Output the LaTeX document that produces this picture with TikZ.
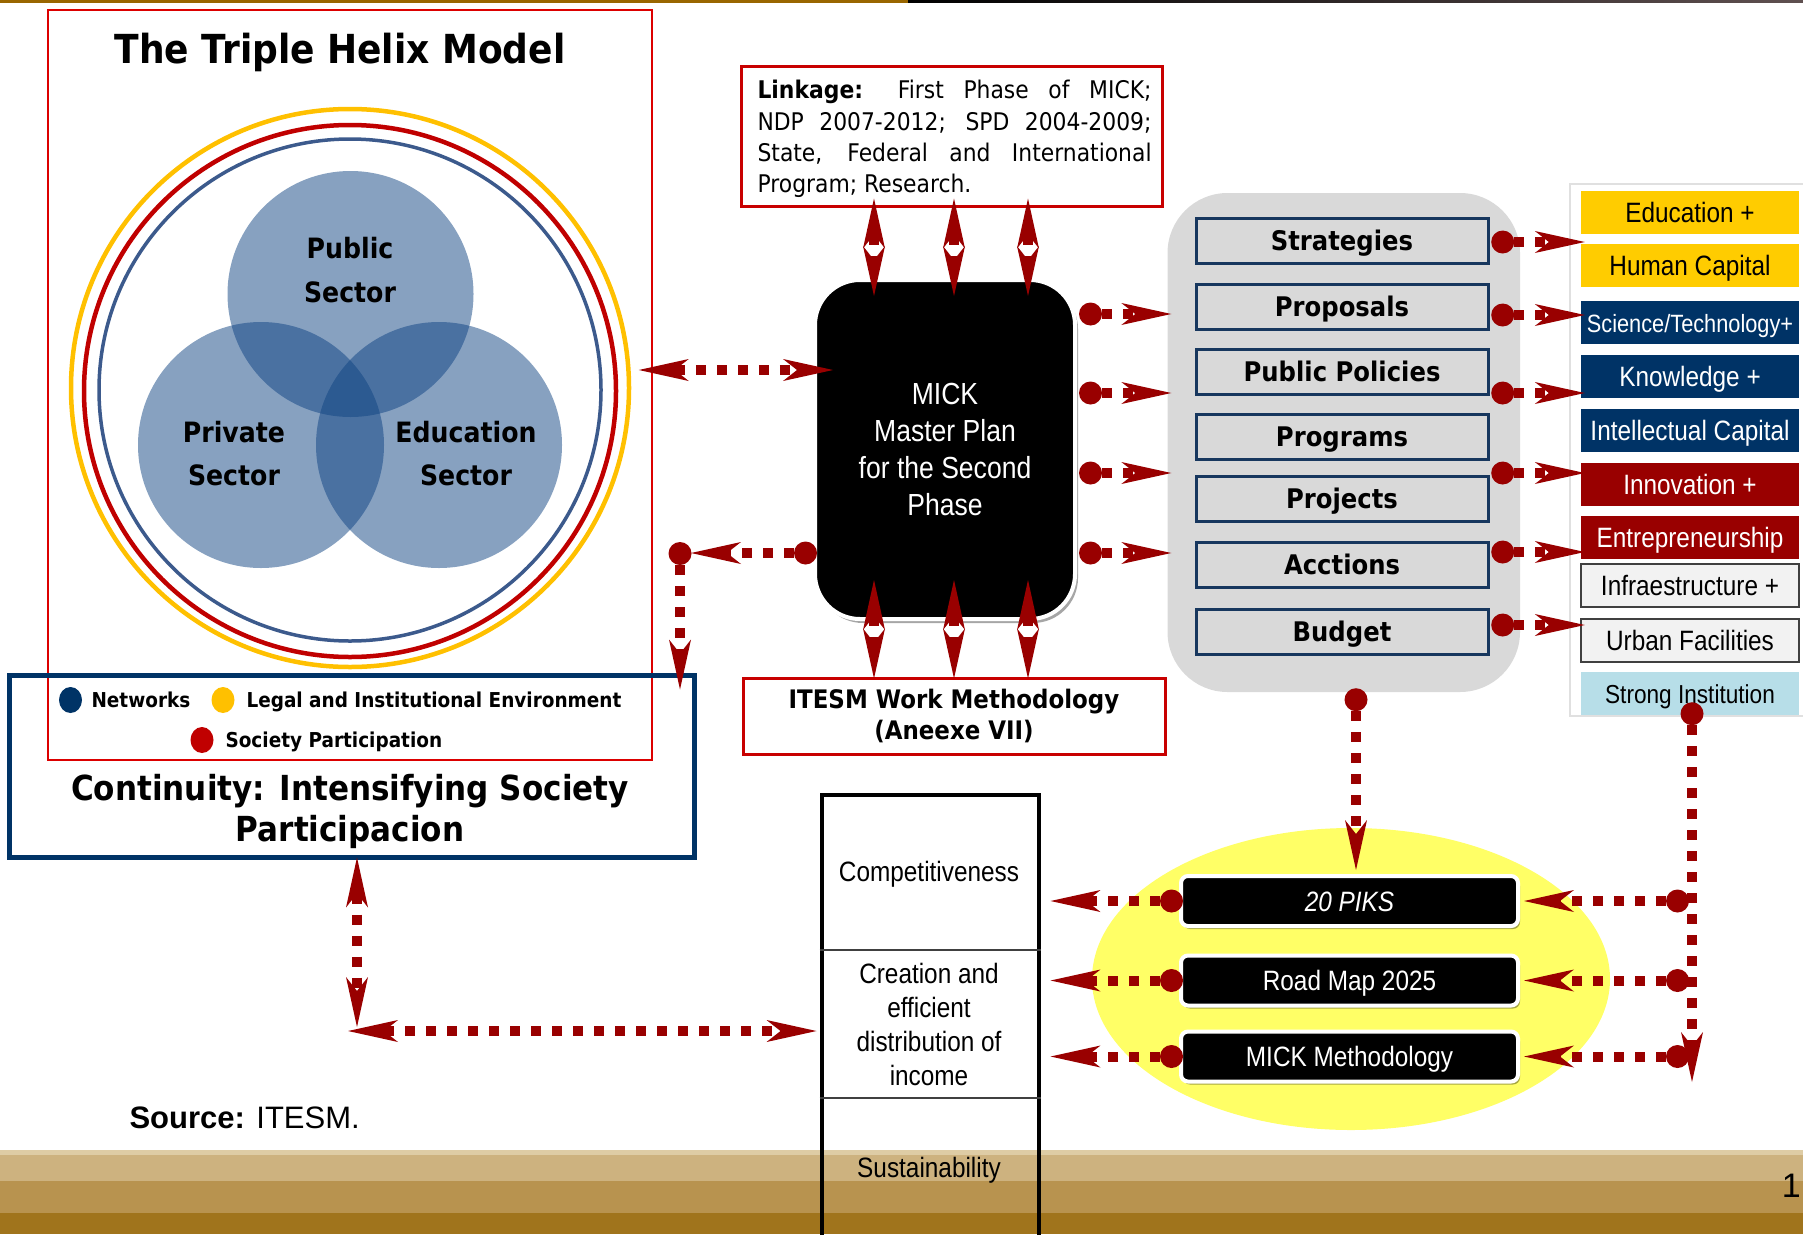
\documentclass[tikz,border=0pt]{standalone}
\usepackage{fontspec}
\setmainfont{Liberation Sans}
\newfontfamily\tah[FakeStretch=0.9]{DejaVu Sans}
\newfontfamily\nar[FakeStretch=0.87]{Liberation Sans}
\newfontfamily\ari{Liberation Sans}
\usetikzlibrary{arrows.meta,calc,shapes.geometric,shadows}
\newcommand\fsz[2]{\fontsize{#1}{#2}\selectfont}
\definecolor{ared}{RGB}{153,0,0}
\definecolor{hred}{RGB}{220,0,0}
\definecolor{bred}{RGB}{200,0,0}
\definecolor{navy}{RGB}{0,51,102}
\definecolor{ygold}{RGB}{255,192,0}
\definecolor{ybox}{RGB}{255,204,0}
\definecolor{sred}{RGB}{192,0,0}
\definecolor{ringblue}{RGB}{60,90,140}
\definecolor{venn}{RGB}{15,67,130}
\definecolor{pgray}{RGB}{217,217,217}
\definecolor{bbord}{RGB}{23,55,94}
\definecolor{ccyan}{RGB}{183,222,232}
\definecolor{lgray}{RGB}{242,242,242}
\definecolor{yel}{RGB}{255,255,102}
\definecolor{band0}{RGB}{222,204,165}
\definecolor{band1}{RGB}{205,178,127}
\definecolor{band2}{RGB}{184,147,79}
\definecolor{band3}{RGB}{160,116,28}
\definecolor{topgold}{RGB}{153,102,0}
\definecolor{redbox}{RGB}{153,0,0}
\begin{document}
\begin{tikzpicture}[x=1pt,y=-1pt,
  conn/.style={draw=ared, line width=10pt, dash pattern=on 10pt off 11pt},
  Hd/.tip={Stealth[length=50pt,width=22pt,inset=14pt,line width=0pt]},
  Dt/.tip={Circle[length=23pt,line width=0pt]},
  vennc/.style={circle, fill=venn, fill opacity=0.5, minimum size=246pt, inner sep=0pt},
  vlab/.style={anchor=base, font={\tah\bfseries\fsz{28}{32}}},
  legdot/.style={ellipse, minimum width=23pt, minimum height=26pt, inner sep=0pt},
  legtxt/.style={anchor=base west, font={\tah\bfseries\fsz{20.5}{24}}},
  pitem/.style={draw=bbord, line width=3pt, fill=pgray, minimum width=292pt, minimum height=45pt, inner sep=0pt, font={\tah\bfseries\fsz{27}{32}}, text height=19.5pt, text depth=0pt},
  rbox/.style={minimum width=218pt, minimum height=43pt, inner sep=0pt, font={\nar\fsz{28}{32}}, text height=20pt, text depth=0pt},
  bbox/.style={fill=black, draw=white, line width=4pt, rounded corners=7pt, minimum width=337pt, minimum height=50pt, inner sep=0pt, text=white, font={\nar\fsz{28}{32}}, text height=20pt, text depth=0pt, drop shadow={shadow xshift=2pt, shadow yshift=-3pt, opacity=0.35, fill=black}},
  ttxt/.style={anchor=base, font={\nar\fsz{28}{32}}},
  lktxt/.style={anchor=base west, font={\tah\fsz{24.3}{31}}}
]
\useasboundingbox (0,0) rectangle (1803,1234);
% bottom band
\fill[band1] (0,1150) rectangle (1803,1181);
\fill[band0] (0,1150) rectangle (1803,1155);
\fill[band2] (0,1181) rectangle (1803,1213);
\fill[band3] (0,1213) rectangle (1803,1234);
% top line
\fill[topgold] (0,0) rectangle (908,3);
\shade[left color=black, right color={rgb,255:red,95;green,80;blue,80}] (908,0) rectangle (1803,2);

% ---------- Triple Helix ----------
\node[draw=hred, line width=1.5pt, minimum width=604pt, minimum height=750pt, inner sep=0pt] (helix) at (350,385) {};
\node[anchor=base, font={\tah\bfseries\fsz{40}{44}}] (title) at (340,63) {The Triple Helix Model};
\draw[draw=ygold, line width=4.5pt] (350,388) circle[radius=279pt];
\draw[draw=sred, line width=4.5pt] (350,391) circle[radius=266pt];
\draw[draw=ringblue, line width=3.5pt] (350,390) circle[radius=251pt];
\node[vennc] (pub) at (350.5,294) {};
\node[vennc] (pri) at (261,445) {};
\node[vennc] (edu) at (439,445) {};
\node[vlab] (pubA) at (350,258) {Public};
\node[vlab] (pubB) at (350,302) {Sector};
\node[vlab] (priA) at (234,442) {Private};
\node[vlab] (priB) at (234,485) {Sector};
\node[vlab] (eduA) at (466,442) {Education};
\node[vlab] (eduB) at (466,485) {Sector};

% ---------- Continuity box ----------
\node[draw=navy, line width=5pt, minimum width=685pt, minimum height=182pt, inner sep=0pt] (cont) at (351.5,766) {};
\node[legdot, fill=navy] (lg1) at (70.5,700) {};
\node[legtxt] (lg1t) at (88,707) {Networks};
\node[legdot, fill=ygold] (lg2) at (223,700) {};
\node[legtxt] (lg2t) at (243,707) {Legal and Institutional Environment};
\node[legdot, fill=sred] (lg3) at (202,740) {};
\node[legtxt] (lg3t) at (222,747) {Society Participation};
\node[anchor=base, font={\tah\bfseries\fsz{34.5}{40}}] (contA) at (350,800) {Continuity: Intensifying Society};
\node[anchor=base, font={\tah\bfseries\fsz{34.5}{40}}] (contB) at (350,841) {Participacion};

% ---------- Linkage ----------
\node[draw=bred, line width=3pt, minimum width=421pt, minimum height=140pt, inner sep=0pt] (link) at (951.5,136) {};
\node[lktxt] (lk1) at (754,98) {\makebox[394pt][s]{\textbf{Linkage:} First Phase of MICK;}};
\node[lktxt] (lk2) at (754,130) {\makebox[394pt][s]{NDP 2007-2012; SPD 2004-2009;}};
\node[lktxt] (lk3) at (754,161) {\makebox[394pt][s]{State, Federal and International}};
\node[lktxt] (lk4) at (754,192) {Program; Research.};

% ---------- MICK ----------
\node[fill=black, draw=white, line width=4pt, rounded corners=45pt, minimum width=260pt, minimum height=339pt, inner sep=0pt,
      drop shadow={shadow xshift=3pt, shadow yshift=-4pt, opacity=0.35, fill=black},
      text=white, align=center, font={\nar\fsz{30.5}{37}}] (mick) at (945,449.5) {MICK\\Master Plan\\for the Second\\Phase};

% ---------- ITESM ----------
\node[draw=bred, line width=3pt, minimum width=422pt, minimum height=76pt, inner sep=0pt, align=center, font={\tah\bfseries\fsz{25.5}{31}}] (itesm) at (954,716) {ITESM Work Methodology\\(Aneexe VII)};

% ---------- Gray panel ----------
\node[fill=pgray, rounded corners=60pt, minimum width=352.5pt, minimum height=499pt, inner sep=0pt] (panel) at (1343.75,442.5) {};
\node[pitem] (p1) at (1342,241) {Strategies};
\node[pitem] (p2) at (1342,306.5) {Proposals};
\node[pitem] (p3) at (1342,371.5) {Public Policies};
\node[pitem] (p4) at (1342,437) {Programs};
\node[pitem] (p5) at (1342,499) {Projects};
\node[pitem] (p6) at (1342,564.5) {Acctions};
\node[pitem] (p7) at (1342,632) {Budget};

% ---------- Right column ----------
\node[draw=black!12, line width=2pt, minimum width=240pt, minimum height=532pt, inner sep=0pt] (rpanel) at (1690,450) {};
\node[rbox, fill=ybox] (r1) at (1690,212) {Education +};
\node[rbox, fill=ybox] (r2) at (1690,265.5) {Human Capital};
\node[rbox, fill=navy, text=white, font={\nar\fsz{25}{30}}] (r3) at (1690,322.5) {Science/Technology+};
\node[rbox, fill=navy, text=white] (r4) at (1690,376) {Knowledge +};
\node[rbox, fill=navy, text=white] (r5) at (1690,430) {Intellectual Capital};
\node[rbox, fill=redbox, text=white] (r6) at (1690,484.5) {Innovation +};
\node[rbox, fill=redbox, text=white] (r7) at (1690,537.5) {Entrepreneurship};
\node[rbox, fill=lgray, draw=black!75, line width=2pt] (r8) at (1690,585.5) {Infraestructure +};
\node[rbox, fill=lgray, draw=black!75, line width=2pt] (r9) at (1690,640) {Urban Facilities};
\node[rbox, fill=ccyan, font={\nar\fsz{26}{30}}] (r10) at (1690,693.5) {Strong Institution};

% ---------- Yellow ellipse & black boxes ----------
\node[ellipse, fill=yel, minimum width=518pt, minimum height=302pt, inner sep=0pt] (ell) at (1351,979) {};
\node[bbox] (b1) at (1349.5,901) {\itshape 20 PIKS};
\node[bbox] (b2) at (1349.5,980.5) {Road Map 2025};
\node[bbox] (b3) at (1349.5,1056.5) {MICK Methodology};

% ---------- Outcome table ----------
\node[draw=black, line width=4pt, minimum width=217pt, minimum height=500pt, inner sep=0pt, anchor=north] (tbl) at (930,793) {};
\draw[line width=2.5pt, black!75] (tbl.west |- 0,950) -- (tbl.east |- 0,950);
\draw[line width=2.5pt, black!75] (tbl.west |- 0,1098) -- (tbl.east |- 0,1098);
\node[ttxt] (tc1) at (929,881) {Competitiveness};
\node[ttxt] (tc2) at (929,983) {Creation and};
\node[ttxt] (tc3) at (929,1017) {efficient};
\node[ttxt] (tc4) at (929,1051) {distribution of};
\node[ttxt] (tc5) at (929,1085) {income};
\node[ttxt] (tc6) at (929,1177) {Sustainability};

% ---------- Texts ----------
\node[anchor=base west, font={\ari\fsz{31}{36}}] (src) at (126,1128) {\textbf{Source:} ITESM.};
\node[anchor=base east, font={\ari\fsz{34}{40}}, inner sep=0pt] (pg) at (1801,1197) {1};

% ---------- Coordinates ----------
\coordinate (corner) at (680,553);
\coordinate (corner2) at (357,1031);
\coordinate (sEnd) at (1692,1082);

% ---------- Connectors ----------
\draw[conn, Hd-Hd] ($(helix.east|-0,370)+(-14,0)$) -- ($(mick.west|-0,370)+(20,0)$);
\foreach \xx in {874,954,1028}{
  \draw[conn, Hd-Hd] ($(link.south-|\xx,0)+(0,-9)$) -- ($(mick.north-|\xx,0)+(0,18)$);
  \draw[conn, Hd-Hd] ($(mick.south-|\xx,0)+(0,-41)$) -- ($(itesm.north-|\xx,0)+(0,2)$);
}
\foreach \yy in {314,393,473,553}{
  \draw[conn, Dt-Hd] ($(mick.east|-0,\yy)+(2,0)$) -- ($(panel.west|-0,\yy)+(4,0)$);
}
\draw[conn, Dt-Hd] ($(mick.west|-corner)+(4,0)$) -- ($(corner)+(11,0)$);
\draw[conn, Dt-Hd] ($(corner)+(0,-11)$) -- ($(cont.north-|corner)+(0,17)$);
\foreach \yy in {242,315,393,473,552,625}{
  \draw[conn, Dt-Hd] ($(panel.east|-0,\yy)+(-29,0)$) -- ($(r1.west|-0,\yy)+(4,0)$);
}
\draw[conn, Dt-Hd] ($(panel.south-|1356,0)+(0,-4)$) -- ($(b1.north-|1356,0)+(0,-4)$);
\draw[conn, Dt-Hd] ($(r10.south-|sEnd)+(0,-13)$) -- (sEnd);
\foreach \bb in {b1,b2,b3}{
  \draw[conn, Dt-Hd] ($(sEnd|-\bb.east)+(-3,0)$) -- ($(\bb.east)+(4,0)$);
  \draw[conn, Dt-Hd] ($(\bb.west)+(4,0)$) -- ($(tbl.east|-\bb.west)+(10,0)$);
}
\draw[conn, Hd-Hd] ($(cont.south-|corner2)+(0,-2)$) -- ($(corner2)+(0,-4)$);
\draw[conn, Hd-Hd] ($(corner2)+(-9,0)$) -- ($(tbl.west|-corner2)+(-3,0)$);
\end{tikzpicture}
\end{document}
